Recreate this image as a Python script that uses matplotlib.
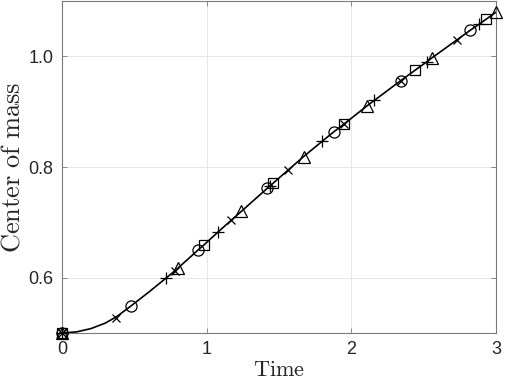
import matplotlib.pyplot as plt

# curve
t_curve = [0.0, 0.1, 0.2, 0.3, 0.38, 0.477, 0.6, 0.746, 0.80, 0.94, 0.98, 1.08, 1.17, 1.24,
           1.42, 1.46, 1.56, 1.67, 1.80, 1.88, 1.95, 2.11, 2.34, 2.44, 2.53, 2.56, 2.73,
           2.82, 2.87, 2.93, 3.0]
y_curve = [0.500, 0.502, 0.508, 0.518, 0.530, 0.549, 0.574, 0.605, 0.617, 0.650, 0.659, 0.683,
           0.704, 0.720, 0.762, 0.771, 0.794, 0.819, 0.847, 0.864, 0.878, 0.911, 0.956, 0.975,
           0.992, 0.998, 1.030, 1.047, 1.056, 1.067, 1.080]

# marker series
t_circ = [0.0, 0.477, 0.94, 1.42, 1.88, 2.34, 2.82]
y_circ = [0.500, 0.549, 0.650, 0.762, 0.864, 0.956, 1.047]
t_sq = [0.0, 0.98, 1.46, 1.95, 2.44, 2.93]
y_sq = [0.500, 0.659, 0.771, 0.878, 0.975, 1.067]
t_tri = [0.0, 0.80, 1.24, 1.67, 2.11, 2.56, 3.0]
y_tri = [0.500, 0.617, 0.720, 0.819, 0.911, 0.998, 1.080]
t_plus = [0.0, 0.72, 1.08, 1.44, 1.80, 2.16, 2.52, 2.88]
y_plus = [0.500, 0.599, 0.683, 0.766, 0.847, 0.921, 0.990, 1.058]
t_star = [0.0, 0.37, 0.78, 1.17, 1.56, 1.95, 2.34, 2.73]
y_star = [0.500, 0.528, 0.613, 0.704, 0.794, 0.878, 0.956, 1.030]

plt.rcParams['mathtext.fontset'] = 'cm'
plt.rcParams['font.family'] = ['Liberation Sans', 'DejaVu Sans']

fig = plt.figure(figsize=(5.05, 3.83), dpi=100)
ax = fig.add_axes([0.1228, 0.1305, 0.8594, 0.8665])

ax.plot(t_curve, y_curve, color='k', lw=1.2, zorder=3)
mk = dict(ls='none', mfc='none', mec='k', mew=0.9, zorder=4, clip_on=False)
ax.plot(t_circ, y_circ, marker='o', ms=8, **mk)
ax.plot(t_sq, y_sq, marker='s', ms=6.5, **mk)
ax.plot(t_tri, y_tri, marker='^', ms=9, **mk)
ax.plot(t_plus, y_plus, marker='+', ms=8, **mk)
ax.plot(t_star, y_star, marker='x', ms=6, **mk)

ax.set_xlim(0, 3)
ax.set_ylim(0.5, 1.1)
ax.set_xticks([0, 1, 2, 3])
ax.set_yticks([0.6, 0.8, 1.0])
ax.set_yticklabels(['0.6', '0.8', '1.0'])
ax.grid(True, color='#e3e3e3', lw=0.6)
ax.set_axisbelow(True)
for s in ax.spines.values():
    s.set_color('#7a7a7a')
    s.set_linewidth(0.8)
ax.tick_params(direction='in', length=3.5, width=0.6, color='#7a7a7a',
               labelsize=13, labelcolor='#262626', top=True, right=True, pad=6)

ax.set_xlabel(r'$\mathrm{Time}$', fontsize=16, color='#262626', labelpad=1)
ax.set_ylabel(r'$\mathrm{Center\ of\ mass}$', fontsize=19, color='#262626', labelpad=3)

fig.savefig('out.png', dpi=100)
